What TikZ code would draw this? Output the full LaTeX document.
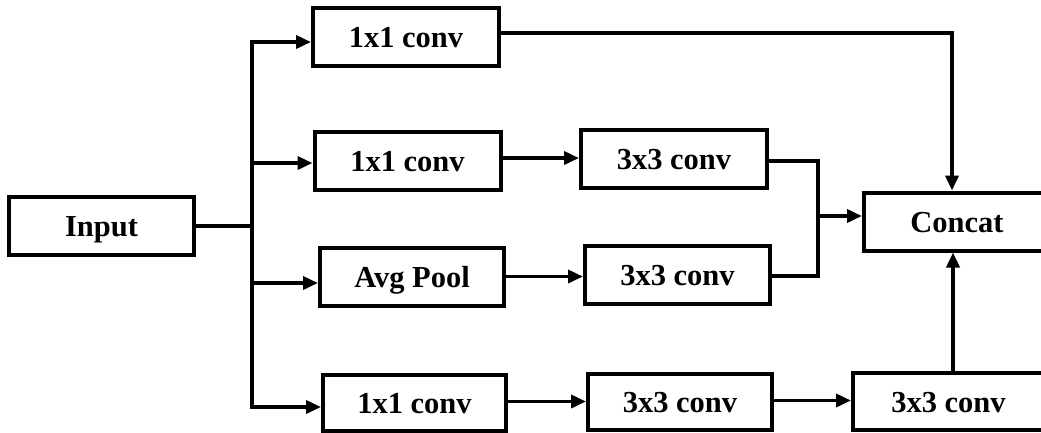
\documentclass[tikz,border=0pt]{standalone}
\usepackage{fontspec}
\setmainfont{Liberation Serif}
\usetikzlibrary{arrows.meta}
\tikzset{
  blk/.style={draw, line width=4pt, minimum width=186pt, minimum height=58pt, inner sep=0pt,
    text height=21.5pt, text depth=0pt,
    font=\fontsize{30.5}{35}\selectfont\bfseries},
  conn/.style={line width=3.6pt, line join=miter},
  arr/.style={conn, -{Triangle[length=15pt,width=13pt]}},
}
\begin{document}
\begin{tikzpicture}[x=1pt,y=-1pt]
\useasboundingbox (0,0) rectangle (1041,432);
\clip (0,0) rectangle (1041,432);
\node[blk, minimum width=185pt] (in) at (101.5,226) {Input};
\node[blk] (a1) at (406,37) {1x1 conv};
\node[blk] (b1) at (407.5,161) {1x1 conv};
\node[blk] (b2) at (674,159) {3x3 conv};
\node[blk, minimum width=184pt] (c1) at (412,276.5) {Avg Pool};
\node[blk, minimum width=185pt] (c2) at (677.5,275) {3x3 conv};
\node[blk, minimum width=183pt, minimum height=56pt] (d1) at (414.5,402.5) {1x1 conv};
\node[blk, minimum width=184pt, minimum height=56pt] (d2) at (680,402) {3x3 conv};
\node[blk, minimum width=191pt, minimum height=57pt] (d3) at (948.5,401.5) {3x3 conv};
\node[blk] (cc) at (957,221.5) {Concat};
\coordinate (j) at (252,226);
\coordinate (m) at (818,216);
% input trunk
\draw[conn] (in.east) -- (j);
\draw[arr] (j) |- ([yshift=-5pt]a1.west);
\draw[arr] (j) |- ([yshift=-2pt]b1.west);
\draw[arr] (j) |- ([yshift=-6.5pt]c1.west);
\draw[arr] (j) |- ([yshift=-4.5pt]d1.west);
% branch 1
\draw[arr] ([yshift=4pt]a1.east) -| ([xshift=-5pt]cc.north);
% branch 2
\draw[arr] ([yshift=3pt]b1.east) -- ([yshift=3pt]b1.east -| b2.west);
\draw[conn] ([yshift=-2pt]b2.east) -| (m);
% branch 3
\draw[arr] (c1.east) -- (c1.east -| c2.west);
\draw[conn] ([yshift=-1pt]c2.east) -| (m);
\draw[arr] (m) -- (m -| cc.west);
% branch 4
\draw[arr] ([yshift=1pt]d1.east) -- ([yshift=1pt]d1.east -| d2.west);
\draw[arr] ([yshift=1.5pt]d2.east) -- ([yshift=1.5pt]d2.east -| d3.west);
\draw[arr] ([xshift=4.5pt]d3.north) -- ([xshift=4.5pt]d3.north |- cc.south);
\end{tikzpicture}
\end{document}
